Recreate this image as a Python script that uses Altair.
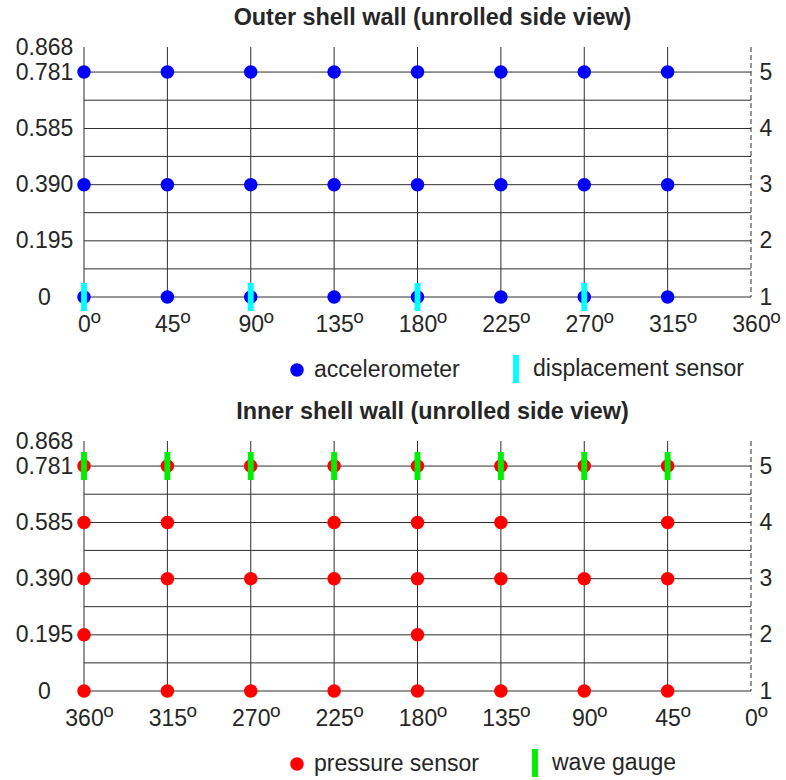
import altair as alt
import pandas as pd

# ---- layout of the shell walls -------------------------------------------
TICK_ANGLES = [0, 45, 90, 135, 180, 225, 270, 315, 360]
OUTER_POSTS = [0, 45, 90, 135, 180, 225, 270, 315]      # solid column lines
INNER_POSTS = [360, 315, 270, 225, 180, 135, 90, 45]
OUTER_SEAM = [360]                                       # dashed closing line
INNER_SEAM = [0]

Y_TICKS = [0, 0.195, 0.390, 0.585, 0.781, 0.868]
RING_HEIGHTS = [0, 0.195, 0.390, 0.585, 0.781]
RING_LABELS = ["1", "2", "3", "4", "5"]
GRID_HEIGHTS = [0, 0.0976, 0.195, 0.2928, 0.390, 0.4881, 0.585, 0.6833, 0.781]
WALL_TOP = 0.868

# ---- sensor positions ----------------------------------------------------
ACCEL_ANGLES = [0, 45, 90, 135, 180, 225, 270, 315]
ACCEL_HEIGHTS = [0.781, 0.390, 0]
DISP_ANGLES = [0, 90, 180, 270]
DISP_HEIGHT = 0

PRESSURE_RINGS = [0.781, 0.585, 0.390, 0.195, 0]
PRESSURE_ANGLES = [
    [360, 315, 270, 225, 180, 135, 90, 45],
    [360, 315, 225, 180, 135, 45],
    [360, 315, 270, 225, 180, 135, 90, 45],
    [360, 180],
    [360, 315, 270, 225, 180, 135, 90, 45],
]
WAVE_ANGLES = [360, 315, 270, 225, 180, 135, 90, 45]
WAVE_HEIGHT = 0.781

OUTER_NAMES = ["accelerometer", "displacement sensor"]
OUTER_COLORS = ["#0000ff", "#00ffff"]
INNER_NAMES = ["pressure sensor", "wave gauge"]
INNER_COLORS = ["#ff0000", "#00ee00"]

# symbol paths (unit box scaled by sqrt(size)/2)
DOT = "M-0.48,0A0.48,0.48 0 1,0 0.48,0A0.48,0.48 0 1,0 -0.48,0Z"
BAR = "M-0.21,-1L0.21,-1L0.21,1L-0.21,1Z"
SYMBOL_SIZE = 784

INK = "#262626"
LINE = "#2e2e2e"
FONT = "Liberation Sans"
LABEL_SIZE = 23
DEGREE_SIZE = 19


def outer_frame():
    rows = [(a, h, OUTER_NAMES[0]) for h in ACCEL_HEIGHTS for a in ACCEL_ANGLES]
    rows += [(a, DISP_HEIGHT, OUTER_NAMES[1]) for a in DISP_ANGLES]
    return pd.DataFrame(rows, columns=["angle", "height", "sensor"])


def inner_frame():
    rows = []
    for h, angles in zip(PRESSURE_RINGS, PRESSURE_ANGLES):
        rows += [(a, h, INNER_NAMES[0]) for a in angles]
    rows += [(a, WAVE_HEIGHT, INNER_NAMES[1]) for a in WAVE_ANGLES]
    return pd.DataFrame(rows, columns=["angle", "height", "sensor"])


def panel(title, data, posts, seam, names, colors, reverse):
    xs = alt.Scale(domain=[0, 360], reverse=reverse, nice=False, zero=False)
    ys = alt.Scale(domain=[0, WALL_TOP], nice=False)
    x_axis = alt.Axis(
        values=TICK_ANGLES, title=None,
        domain=False, ticks=False, grid=False, labelFlush=False,
        labelOverlap=False, labelPadding=16, labelFontSize=LABEL_SIZE,
        labelColor=INK, labelFont=FONT,
    )
    left_axis = alt.Axis(
        orient="left", values=Y_TICKS, title=None,
        labelExpr="datum.value == 0 ? '0' : format(datum.value, '.3f')",
        domain=False, ticks=False, grid=False, labelOverlap=False,
        labelAlign="center", labelPadding=40,
        labelFontSize=LABEL_SIZE, labelColor=INK, labelFont=FONT,
    )
    ring_expr = "[%s][indexof([%s], datum.value)]" % (
        ",".join("'%s'" % r for r in RING_LABELS),
        ",".join(str(h) for h in RING_HEIGHTS),
    )
    right_axis = alt.Axis(
        orient="right", values=RING_HEIGHTS, title=None, labelExpr=ring_expr,
        domain=False, ticks=False, grid=False, labelOverlap=False,
        labelPadding=8, labelFontSize=LABEL_SIZE, labelColor=INK, labelFont=FONT,
    )
    legend = alt.Legend(
        title=None, orient="none", direction="horizontal", legendX=199,
        legendY=308, labelFontSize=LABEL_SIZE, labelColor=INK, labelFont=FONT,
        labelOffset=3, columnPadding=42, symbolSize=SYMBOL_SIZE,
        symbolStrokeWidth=0, padding=0, labelLimit=400,
    )

    grid = alt.Chart(pd.DataFrame({"h": GRID_HEIGHTS})).mark_rule(
        color=LINE, strokeWidth=1
    ).encode(y=alt.Y("h:Q", scale=ys, axis=right_axis))

    cols = alt.Chart(pd.DataFrame({"a": posts})).mark_rule(
        color=LINE, strokeWidth=1
    ).encode(x=alt.X("a:Q", scale=xs, axis=x_axis))

    closing = alt.Chart(pd.DataFrame({"a": seam})).mark_rule(
        color=LINE, strokeWidth=1, strokeDash=[5, 3]
    ).encode(x=alt.X("a:Q", scale=xs, axis=x_axis))

    # raised "o" degree marks after each angle label, offset by digit count
    degree_marks = []
    for n in (1, 2, 3):
        group = [a for a in TICK_ANGLES if len(str(a)) == n]
        degree_marks.append(
            alt.Chart(pd.DataFrame({"a": group})).mark_text(
                text="o", align="left", baseline="alphabetic",
                dx=n * 0.556 * LABEL_SIZE / 2, dy=26,
                fontSize=DEGREE_SIZE, font=FONT, color=INK,
            ).encode(
                x=alt.X("a:Q", scale=xs, axis=x_axis),
                y=alt.YDatum(0, scale=ys, axis=None),
            )
        )

    sensors = alt.Chart(data).mark_point(
        filled=True, opacity=1, size=SYMBOL_SIZE, strokeWidth=0
    ).encode(
        x=alt.X("angle:Q", scale=xs, axis=x_axis),
        y=alt.Y("height:Q", scale=ys, axis=left_axis),
        color=alt.Color("sensor:N", scale=alt.Scale(domain=names, range=colors),
                        legend=legend),
        shape=alt.Shape("sensor:N", scale=alt.Scale(domain=names, range=[DOT, BAR]),
                        legend=legend),
    )

    return alt.layer(grid, cols, closing, *degree_marks, sensors).resolve_axis(
        y="independent"
    ).properties(
        width=667, height=250,
        title=alt.TitleParams(title, fontSize=23.4, fontWeight="bold", color=INK,
                              font=FONT, anchor="middle", dx=15, offset=6),
    )


outer = panel("Outer shell wall (unrolled side view)", outer_frame(),
              OUTER_POSTS, OUTER_SEAM, OUTER_NAMES, OUTER_COLORS, False)
inner = panel("Inner shell wall (unrolled side view)", inner_frame(),
              INNER_POSTS, INNER_SEAM, INNER_NAMES, INNER_COLORS, True)

chart = alt.vconcat(outer, inner, spacing=16).resolve_scale(
    color="independent", shape="independent"
).resolve_legend(
    color="independent", shape="independent"
).properties(
    padding={"left": 15, "top": 5, "right": 5, "bottom": 5},
    background="white",
).configure(font=FONT).configure_view(stroke=None)

chart.save("out.html", embed_options={"renderer": "svg", "actions": False})
